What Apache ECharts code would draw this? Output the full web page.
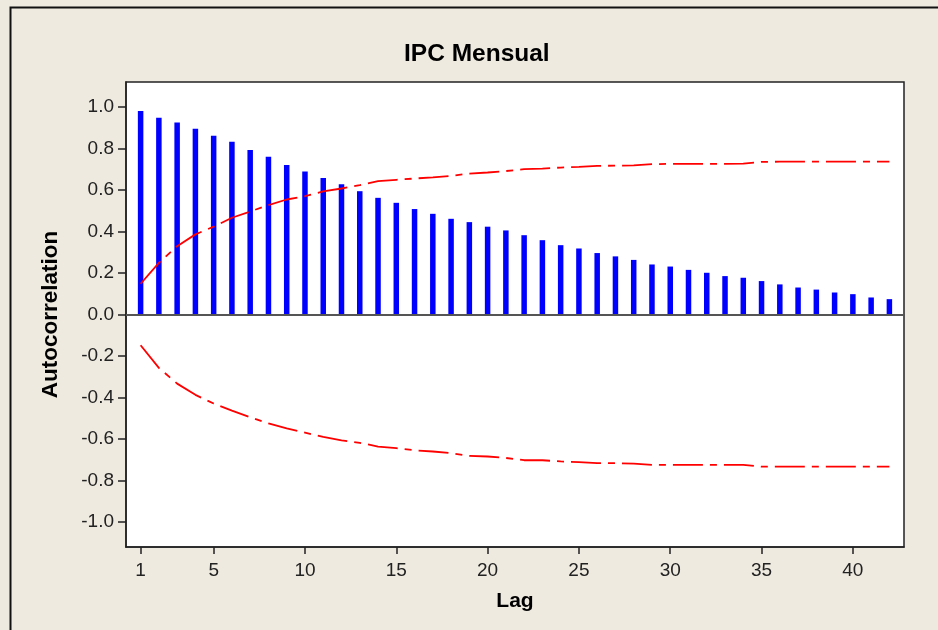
<!DOCTYPE html>
<html>
<head>
<meta charset="utf-8">
<script src="https://cdn.jsdelivr.net/npm/echarts@6/dist/echarts.min.js"></script>
<style>
html,body{margin:0;padding:0;background:#EEEAE0;}
#chart{width:938px;height:630px;}
</style>
</head>
<body>
<div id="chart"></div>
<script>
const titleText = 'IPC Mensual';
const xName = 'Lag';
const yName = 'Autocorrelation';
const lags = [1,2,3,4,5,6,7,8,9,10,11,12,13,14,15,16,17,18,19,20,21,22,23,24,25,26,27,28,29,30,31,32,33,34,35,36,37,38,39,40,41,42];
const acf = [0.980,0.948,0.925,0.895,0.861,0.832,0.792,0.760,0.720,0.689,0.657,0.627,0.594,0.562,0.538,0.508,0.485,0.461,0.445,0.423,0.405,0.382,0.358,0.334,0.318,0.296,0.280,0.263,0.241,0.231,0.215,0.201,0.185,0.177,0.161,0.145,0.130,0.120,0.106,0.098,0.082,0.074];
const upperLimit = [0.148,0.249,0.329,0.386,0.423,0.466,0.496,0.527,0.554,0.570,0.593,0.607,0.623,0.642,0.649,0.655,0.661,0.668,0.679,0.684,0.691,0.700,0.703,0.708,0.711,0.716,0.717,0.718,0.724,0.726,0.726,0.726,0.726,0.727,0.735,0.736,0.736,0.736,0.736,0.736,0.736,0.736];
const lowerLimit = [-0.148,-0.257,-0.333,-0.387,-0.429,-0.463,-0.495,-0.525,-0.549,-0.569,-0.590,-0.606,-0.618,-0.636,-0.644,-0.654,-0.660,-0.668,-0.681,-0.684,-0.691,-0.702,-0.702,-0.708,-0.711,-0.716,-0.716,-0.718,-0.724,-0.724,-0.724,-0.724,-0.724,-0.724,-0.733,-0.733,-0.733,-0.733,-0.733,-0.733,-0.733,-0.733];
const xTicks = [1,5,10,15,20,25,30,35,40];
const yTicks = [-1.0,-0.8,-0.6,-0.4,-0.2,0.0,0.2,0.4,0.6,0.8,1.0];

const pair = (xs, ys) => xs.map((x, i) => [x, ys[i]]);
const FONT = '"Liberation Sans", Arial, sans-serif';

const chart = echarts.init(document.getElementById('chart'), null, {renderer: 'canvas'});
chart.setOption({
  backgroundColor: '#EEEAE0',
  animation: false,
  title: {
    text: titleText,
    left: 404, top: 42, padding: 0,
    textStyle: {fontFamily: FONT, fontWeight: 'bold', fontSize: 24.5, color: '#000'}
  },
  graphic: [{
    type: 'rect', silent: true, z: -1,
    shape: {x: 10.5, y: 7.5, width: 1000, height: 700},
    style: {fill: 'none', stroke: '#111', lineWidth: 2}
  }],
  grid: {
    left: 126, top: 82, right: 34, bottom: 83,
    show: true, backgroundColor: '#FFFFFF', borderColor: '#222', borderWidth: 1.5
  },
  xAxis: {
    type: 'value', min: 0.2, max: 42.8,
    name: xName, nameLocation: 'middle', nameGap: 44,
    nameTextStyle: {fontFamily: FONT, fontWeight: 'bold', fontSize: 21, color: '#000'},
    axisLine: {show: true, onZero: false, lineStyle: {color: '#222', width: 1.5}},
    axisTick: {show: true, length: 7, customValues: xTicks, lineStyle: {color: '#222', width: 1.5}},
    axisLabel: {customValues: xTicks, margin: 14, fontFamily: FONT, fontSize: 19, color: '#222'},
    splitLine: {show: false}
  },
  yAxis: {
    type: 'value', min: -1.12, max: 1.12,
    name: yName, nameLocation: 'middle', nameGap: 64,
    nameTextStyle: {fontFamily: FONT, fontWeight: 'bold', fontSize: 22.5, color: '#000'},
    axisLine: {show: true, onZero: false, lineStyle: {color: '#222', width: 1.5}},
    axisTick: {show: true, length: 8, customValues: yTicks, lineStyle: {color: '#222', width: 1.5}},
    axisLabel: {customValues: yTicks, margin: 12, fontFamily: FONT, fontSize: 19, color: '#222',
      formatter: v => v.toFixed(1)},
    splitLine: {show: false}
  },
  series: [
    {
      type: 'bar', data: pair(lags, acf), barWidth: 5.5,
      itemStyle: {color: '#0000FF'}, z: 3,
      markLine: {
        silent: true, symbol: 'none', label: {show: false},
        lineStyle: {color: '#555', width: 2, type: 'solid'},
        data: [{yAxis: 0}]
      }
    },
    {
      type: 'line', data: pair(lags, upperLimit), symbol: 'none', z: 4,
      lineStyle: {color: '#FF0000', width: 1.8, type: [30, 7, 7, 7]}
    },
    {
      type: 'line', data: pair(lags, lowerLimit), symbol: 'none', z: 4,
      lineStyle: {color: '#FF0000', width: 1.8, type: [30, 7, 7, 7]}
    }
  ]
});
</script>
</body>
</html>
